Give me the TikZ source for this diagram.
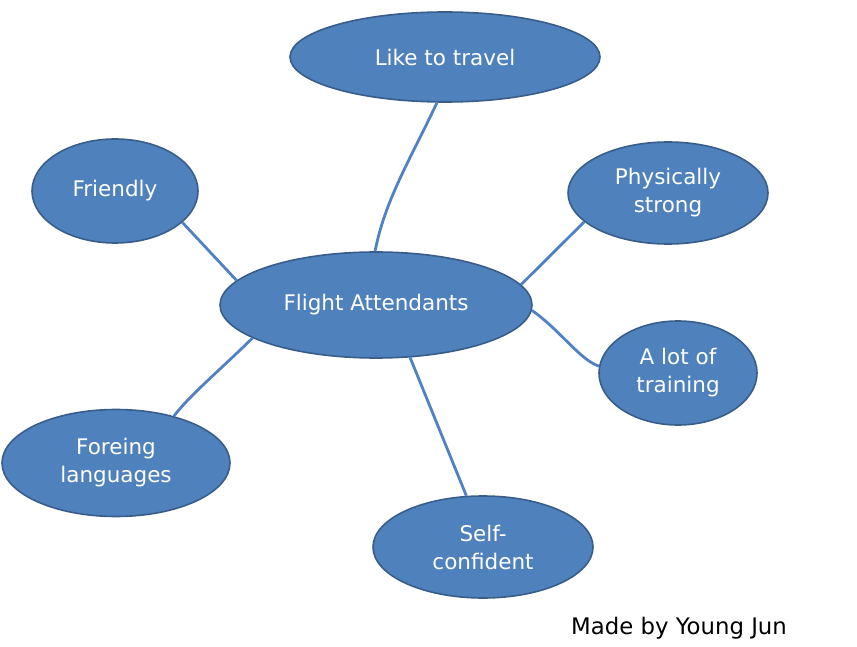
\documentclass[tikz,border=0pt]{standalone}
\usepackage{fontspec}
\setmainfont{DejaVu Sans}
\usetikzlibrary{shapes.geometric}
\definecolor{bubblefill}{HTML}{4F81BD}
\definecolor{bubbleedge}{HTML}{385D8A}
\definecolor{linkcol}{HTML}{4F81C4}
\tikzset{
  bubble/.style={ellipse, draw=bubbleedge, line width=1.6pt, fill=bubblefill,
    text=white, inner sep=0pt, align=center,
    font=\fontsize{21.5}{28}\selectfont},
  link/.style={draw=linkcol, line width=2.8pt}
}
\begin{document}
\begin{tikzpicture}[x=1pt,y=-1pt]
\useasboundingbox (0,0) rectangle (857,647);
\node[bubble, minimum width=310pt, minimum height=90pt] (travel) at (445,57) {Like to travel};
\node[bubble, minimum width=166pt, minimum height=104pt] (friendly) at (115,191) {Friendly};
\node[bubble, minimum width=200pt, minimum height=102pt] (strong) at (668,193) {Physically\\strong};
\node[bubble, minimum width=312pt, minimum height=106pt] (fa) at (376,305) {Flight Attendants};
\node[bubble, minimum width=158pt, minimum height=104pt] (training) at (678,373) {A lot of\\training};
\node[bubble, minimum width=228pt, minimum height=107pt] (lang) at (116,463) {Foreing\\languages};
\node[bubble, minimum width=220pt, minimum height=102pt] (self) at (483,547) {Self-\\confident};
\node[font=\fontsize{22.8}{26}\selectfont, text=black, inner sep=0pt] (made) at (679,628) {Made by Young Jun};
\draw[link] (travel.260) .. controls (410,160) and (385,200) .. (fa.91);
\draw[link] (friendly.-25) -- (fa.170);
\draw[link] (strong.199) -- (fa.8);
\draw[link] (fa.-2) .. controls (560,330) and (580,360) .. (training.175);
\draw[link] (fa.195) .. controls (220,370) and (190,395) .. (lang.39);
\draw[link] (fa.-57) -- (self.108);
\end{tikzpicture}
\end{document}
